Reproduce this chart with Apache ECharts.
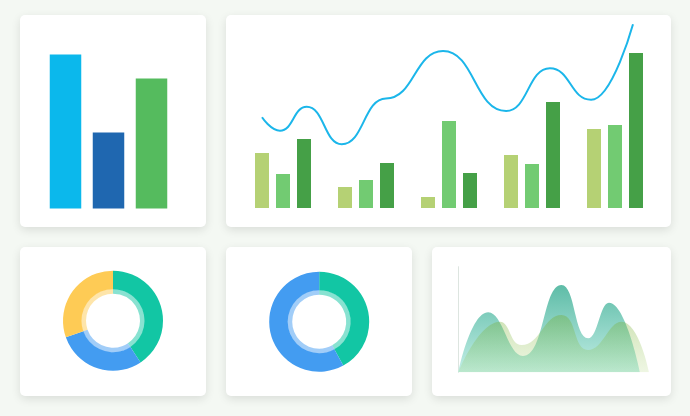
<!DOCTYPE html>
<html>
<head>
<meta charset="utf-8">
<script src="https://cdn.jsdelivr.net/npm/echarts@6/dist/echarts.min.js"></script>
<style>
html,body{margin:0;padding:0;background:#f4f8f3;}
#c{width:690px;height:416px;}
</style>
</head>
<body>
<div id="c"></div>
<script>
// ---- data ----
var simpleCats = ['A', 'B', 'C'];
var simpleVals = [154, 76, 130];
var simpleColors = ['#0bb8ec', '#1f67b0', '#55bb5e'];

var groupCats = ['1', '2', '3', '4', '5'];
var groupA = [55, 21, 11, 53, 79];
var groupB = [34, 28, 87, 44, 83];
var groupC = [69, 45, 35, 106, 155];

var lineX = [0, 4.85, 12.05, 21.5, 33.4, 48.8, 65.8, 77.6, 88.7, 100];
var lineY = [90.7, 77.3, 101.3, 63.7, 109.5, 157, 97, 139.7, 108.2, 183.7];

var donut1Names = ['green', 'blue', 'yellow'];
var donut1Vals = [40.7, 28.9, 30.4];
var donut2Names = ['green', 'blue'];
var donut2Vals = [42, 58];

var areaAX = [0, 15.7, 33.9, 54.1, 68.1, 79.0, 95.3];
var areaAY = [0, 60, 16.3, 87.3, 34, 69.6, 0];
var areaBX = [0, 21.9, 33.2, 54.1, 68, 85.6, 100];
var areaBY = [0, 50.6, 27.3, 57.3, 22.3, 50.6, 0];

function zip(xs, ys) { return xs.map(function (x, i) { return [x, ys[i]]; }); }

var chart = echarts.init(document.getElementById('c'), null, {renderer: 'canvas'});

function card(x, y, w, h) {
  return {
    type: 'rect', shape: {x: x, y: y, width: w, height: h, r: 5}, z: -10,
    style: {fill: '#ffffff', shadowBlur: 10, shadowColor: 'rgba(0,0,0,0.11)', shadowOffsetY: 3}
  };
}
var hidden = {show: false};

var green = '#12c6a4', blue = '#439cf1', yellow = '#fecb55';
var greenL = 'rgba(18,198,164,0.5)', blueL = 'rgba(67,156,241,0.5)', yellowL = 'rgba(254,203,85,0.5)';

function donut(center, radius, names, vals, colors, z) {
  return {
    type: 'pie', center: center, radius: radius, startAngle: 90, clockwise: true, z: z,
    label: hidden, labelLine: hidden, silent: true, emphasis: {disabled: true},
    itemStyle: {borderWidth: 0},
    data: names.map(function (n, i) { return {name: n, value: vals[i], itemStyle: {color: colors[i]}}; })
  };
}

var option = {
  backgroundColor: '#f4f8f3',
  animation: false,
  graphic: [
    card(20, 15, 186, 212),
    card(226, 15, 445, 212),
    card(20, 247, 186, 149),
    card(226, 247, 186, 149),
    card(432, 247, 239, 149)
  ],
  grid: [
    {left: 44, width: 129, top: 20, bottom: 207.5},
    {left: 241.5, right: 33.5, top: 20, bottom: 208},
    {left: 262, right: 57, top: 20, bottom: 208},
    {left: 458.3, right: 41, top: 266.7, bottom: 43.7}
  ],
  xAxis: [
    {type: 'category', gridIndex: 0, data: simpleCats, show: false},
    {type: 'category', gridIndex: 1, data: groupCats, show: false},
    {type: 'value', gridIndex: 2, min: 0, max: 100, show: false},
    {type: 'value', gridIndex: 3, min: 0, max: 100, show: false}
  ],
  yAxis: [
    {type: 'value', gridIndex: 0, min: 0, max: 188.5, show: false},
    {type: 'value', gridIndex: 1, min: 0, max: 188, show: false},
    {type: 'value', gridIndex: 2, min: 0, max: 188, show: false},
    {type: 'value', gridIndex: 3, min: 0, max: 105.6, splitLine: hidden, axisLabel: hidden, axisTick: hidden,
     axisLine: {show: true, lineStyle: {color: '#dde5e0', width: 1}}}
  ],
  series: [
    {type: 'bar', xAxisIndex: 0, yAxisIndex: 0, barWidth: 31.5,
     data: simpleVals.map(function (v, i) { return {value: v, itemStyle: {color: simpleColors[i]}}; })},
    {type: 'bar', xAxisIndex: 1, yAxisIndex: 1, barWidth: 14, barGap: '50%', data: groupA, itemStyle: {color: '#b5d174'}},
    {type: 'bar', xAxisIndex: 1, yAxisIndex: 1, barWidth: 14, barGap: '50%', data: groupB, itemStyle: {color: '#72cb72'}},
    {type: 'bar', xAxisIndex: 1, yAxisIndex: 1, barWidth: 14, barGap: '50%', data: groupC, itemStyle: {color: '#45a047'}},
    {type: 'line', xAxisIndex: 2, yAxisIndex: 2, data: zip(lineX, lineY), smooth: 0.5, smoothMonotone: 'x',
     showSymbol: false, lineStyle: {color: '#1bb6ea', width: 2}},
    {type: 'line', xAxisIndex: 3, yAxisIndex: 3, data: zip(areaAX, areaAY), smooth: 0.5,
     showSymbol: false, lineStyle: {width: 0},
     areaStyle: {opacity: 1, color: new echarts.graphic.LinearGradient(0, 0, 0, 1, [
       {offset: 0, color: 'rgb(94,188,167)'}, {offset: 1, color: 'rgb(194,238,230)'}])}},
    {type: 'line', xAxisIndex: 3, yAxisIndex: 3, data: zip(areaBX, areaBY), smooth: 0.5,
     showSymbol: false, lineStyle: {width: 0},
     areaStyle: {opacity: 1, color: new echarts.graphic.LinearGradient(0, 0, 0, 1, [
       {offset: 0, color: 'rgba(115,170,45,0.36)'}, {offset: 1, color: 'rgba(150,200,80,0.16)'}])}},
    donut([113, 320.7], [27, 32], donut1Names, donut1Vals, [greenL, blueL, yellowL], 2),
    donut([113, 320.7], [31.5, 50], donut1Names, donut1Vals, [green, blue, yellow], 3),
    donut([319.2, 321.7], [27, 32], donut2Names, donut2Vals, [greenL, blueL], 2),
    donut([319.2, 321.7], [31.5, 50], donut2Names, donut2Vals, [green, blue], 3)
  ]
};
chart.setOption(option);
</script>
</body>
</html>
